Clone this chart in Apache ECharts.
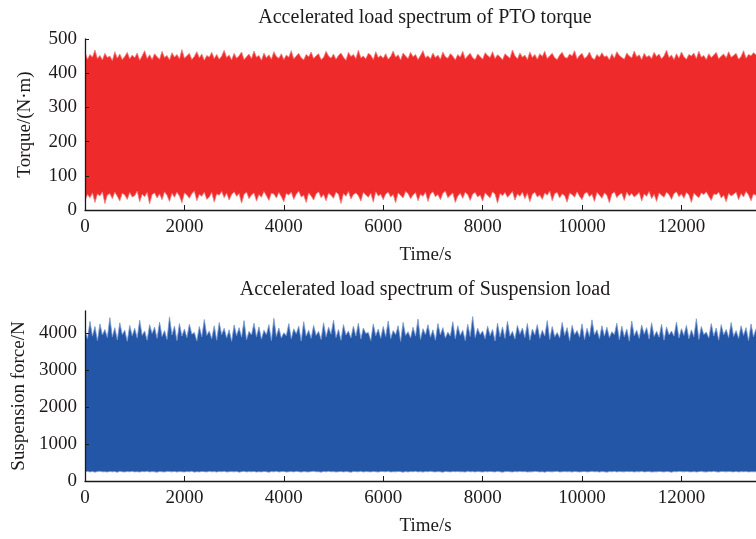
<!DOCTYPE html>
<html>
<head>
<meta charset="utf-8">
<script src="https://cdn.jsdelivr.net/npm/echarts@6/dist/echarts.min.js"></script>
<style>
  html, body { margin: 0; padding: 0; background: #fff; }
  #chart { width: 756px; height: 539px; }
</style>
</head>
<body>
<div id="chart"></div>
<script>
// sample times: 0 .. 13500 s, one envelope reading every 50 s
var timeStep = 50;

// PTO torque, upper envelope (N·m)
var torqueUpper = [
  462,441,455,447,468,443,452,439,458,446,
  450,437,463,444,456,440,449,461,442,453,
  445,459,438,451,466,443,454,440,457,448,
  441,464,446,452,439,460,447,455,442,469,
  444,451,458,440,449,463,445,456,438,452,
  447,461,443,455,441,450,467,446,453,439,
  458,444,451,462,440,448,456,443,465,447,
  452,438,459,445,454,441,463,449,444,457,
  440,453,447,466,442,450,458,445,439,455,
  448,462,443,451,457,440,446,464,450,444,
  456,441,452,459,447,438,461,449,455,443,
  467,445,450,442,458,453,440,463,446,452,
  444,457,441,449,465,447,454,439,459,450,
  443,461,448,455,440,452,466,445,451,442,
  459,446,453,441,462,448,444,457,450,439,
  455,447,464,442,451,458,445,440,456,449,
  441,460,452,446,463,443,454,448,439,457,
  450,444,468,451,442,459,447,453,440,462,
  446,455,441,457,449,464,443,451,458,445,
  440,453,461,447,444,456,450,466,442,452,
  458,443,449,462,445,440,455,447,460,448,
  451,439,457,444,463,452,446,441,459,450,
  445,465,448,454,440,458,447,452,443,461,
  449,456,442,451,467,446,453,440,457,444,
  462,448,441,455,450,459,443,464,447,452,
  440,457,446,453,461,442,450,456,445,463,
  447,452,458,441,449,466,444,455,451,460,
  454
];

// PTO torque, lower envelope (N·m)
var torqueLower = [
  28,45,36,50,22,47,41,53,19,44,
  48,33,52,40,26,49,44,31,51,38,
  42,55,24,46,39,51,18,45,50,35,
  47,30,53,43,25,49,37,52,41,21,
  50,44,34,48,55,27,46,40,52,31,
  38,51,23,47,43,54,36,49,29,45,
  53,40,48,20,46,52,33,44,50,26,
  45,37,54,42,28,49,47,35,51,39,
  24,48,44,52,31,46,55,38,43,22,
  50,41,29,47,53,36,45,27,49,43,
  34,52,46,19,48,40,54,32,45,50,
  42,26,51,44,37,49,23,53,41,46,
  30,47,52,38,45,21,50,43,35,54,
  48,33,44,51,27,46,40,52,25,47,
  53,39,45,30,49,55,36,43,50,22,
  41,49,34,52,45,28,47,51,38,44,
  26,50,43,35,53,46,20,48,42,51,
  37,45,54,29,47,40,52,33,49,24,
  46,52,38,44,31,50,43,55,27,48,
  51,35,47,42,23,49,45,37,53,40,
  30,48,52,39,46,25,51,44,34,50,
  43,21,47,53,36,45,49,28,52,41,
  48,38,44,51,26,47,40,54,33,46,
  25,50,43,37,52,45,31,48,53,39,
  47,34,51,44,22,49,42,36,50,45,
  53,40,28,47,45,52,35,43,24,49,
  41,46,52,30,48,38,54,44,27,47,
  43
];

// Suspension force, upper envelope (N)
var forceUpper = [
  4050,3850,4320,3920,4180,3800,4250,3950,4100,3880,
  4420,3900,4150,3820,4280,3960,4080,3780,4210,3930,
  4130,3870,4350,3940,4060,3810,4230,3990,4160,3860,
  4300,3910,4070,3830,4440,3950,4190,3800,4260,3920,
  4110,3880,4240,3970,4020,3790,4180,3900,4370,3940,
  4060,3850,4200,3810,4290,3960,4130,3870,4090,3780,
  4220,3930,4150,3890,4340,3820,4050,3950,4270,3900,
  4170,3840,4080,3960,4230,3800,4400,3910,4140,3870,
  4010,3930,4260,3850,4120,3980,4190,3790,4310,3920,
  4080,3860,4210,3940,4050,3830,4280,3900,4160,3970,
  4350,3880,4100,3810,4230,3950,4060,3870,4190,3920,
  4270,3840,4140,3990,4020,3800,4250,3930,4110,3860,
  4180,3910,4330,3850,4070,3960,4200,3780,4290,3940,
  4040,3870,4160,3920,4380,3830,4120,3960,4230,3890,
  4090,3810,4260,3950,4150,3870,4030,3920,4310,3850,
  4200,3940,4080,3800,4240,3910,4450,3880,4130,3960,
  4060,3850,4190,3930,4100,3790,4270,3900,4170,3860,
  4320,3920,4050,3840,4210,3970,4140,3880,4260,3810,
  4110,3950,4230,3860,4080,3920,4340,3830,4180,3900,
  4020,3870,4290,3940,4150,3800,4210,3960,4070,3890,
  4250,3830,4130,3910,4360,3950,4090,3850,4200,3920,
  4160,3880,4040,3960,4270,3820,4190,3900,4110,3790,
  4330,3930,4080,3860,4220,3970,4150,3840,4280,3910,
  4050,3890,4240,3810,4170,3950,4060,3920,4300,3870,
  4120,3940,4210,3850,4090,3900,4390,3830,4180,3960,
  4030,3870,4260,3920,4140,3810,4230,3950,4100,3880,
  4290,3910,4070,3860,4200,3940,4150,3800,4250,3900,
  4120
];

// Suspension force, lower envelope (N)
var forceLower = [
  250,262,245,258,240,255,266,248,252,243,
  260,247,255,238,263,250,244,257,249,261,
  246,253,241,259,251,264,245,256,248,239,
  258,250,243,262,254,247,260,242,255,251,
  244,257,249,265,240,253,246,259,252,245,
  261,248,255,242,257,250,263,244,251,256,
  247,259,240,253,262,246,255,249,258,243,
  252,245,260,251,238,256,248,263,244,254,
  259,242,250,257,246,261,253,241,255,248,
  245,256,264,249,252,240,258,247,262,250,
  254,243,251,259,245,257,249,236,260,253,
  248,262,244,255,251,246,258,250,242,257,
  256,249,261,243,253,247,259,252,240,255,
  244,258,250,262,246,254,241,257,249,263,
  251,245,256,248,239,260,253,246,258,250,
  259,247,252,241,264,249,255,244,257,251,
  243,256,248,260,252,245,261,250,238,254,
  257,250,243,258,247,262,251,255,244,249,
  248,261,255,246,253,240,259,252,247,256,
  262,244,250,257,249,254,242,260,251,245,
  253,258,246,251,263,248,255,241,256,250,
  240,255,249,262,245,257,250,247,259,252,
  258,243,254,248,261,246,253,256,242,250,
  247,260,252,244,257,251,239,255,249,262,
  255,248,259,250,246,256,243,253,261,247,
  244,257,251,263,249,242,258,254,248,256,
  252,246,260,243,255,250,257,245,253,249,
  251
];

var timeTicks = [0, 2000, 4000, 6000, 8000, 10000, 12000];
var torqueTicks = [0, 100, 200, 300, 400, 500];
var forceTicks = [0, 1000, 2000, 3000, 4000];

var titles = ['Accelerated load spectrum of PTO torque', 'Accelerated load spectrum of Suspension load'];

var fontFamily = '"Liberation Serif", "Times New Roman", serif';
var ink = '#1e1a1b';
var red = '#ee2a2a';
var redEdge = '#f37f7f';
var blue = '#2356a6';
var blueEdge = '#7c9bd0';

function pairs(vals) {
  return vals.map(function (v, i) { return [i * timeStep, v]; });
}
function plain(v) { return String(v); }

function timeAxis(gridIndex) {
  return {
    type: 'value', gridIndex: gridIndex, min: 0, max: 13500, z: 5,
    name: 'Time/s', nameLocation: 'middle', nameGap: 36,
    nameTextStyle: { fontFamily: fontFamily, fontSize: 19, color: ink, padding: [0, 0, 0, 10] },
    axisLine: { show: true, onZero: false, lineStyle: { color: ink, width: 1.3 } },
    axisTick: { show: true, inside: true, length: 5, customValues: timeTicks, lineStyle: { color: ink } },
    axisLabel: { fontFamily: fontFamily, fontSize: 19, color: ink, margin: 8, customValues: timeTicks, formatter: plain },
    splitLine: { show: false }
  };
}

function valueAxis(gridIndex, max, ticks, name, gap) {
  return {
    type: 'value', gridIndex: gridIndex, min: 0, max: max, z: 5,
    name: name, nameLocation: 'middle', nameGap: gap,
    nameTextStyle: { fontFamily: fontFamily, fontSize: 19, color: ink },
    axisLine: { show: true, onZero: false, lineStyle: { color: ink, width: 1.3 } },
    axisTick: { show: true, inside: true, length: 4, customValues: ticks, lineStyle: { color: ink } },
    axisLabel: { fontFamily: fontFamily, fontSize: 19, color: ink, margin: 8, customValues: ticks, formatter: plain },
    splitLine: { show: false }
  };
}

// filled envelope: upper area in colour, lower area painted white on top
function band(idx, up, lo, color, edge) {
  return [
    {
      type: 'line', xAxisIndex: idx, yAxisIndex: idx, data: pairs(up),
      symbol: 'none', silent: true, z: 2,
      lineStyle: { width: 0.8, color: edge },
      areaStyle: { color: color, opacity: 1 }
    },
    {
      type: 'line', xAxisIndex: idx, yAxisIndex: idx, data: pairs(lo),
      symbol: 'none', silent: true, z: 3,
      lineStyle: { width: 0.8, color: edge },
      areaStyle: { color: '#fff', opacity: 1 }
    }
  ];
}

var chart = echarts.init(document.getElementById('chart'));

var option = {
  animation: false,
  backgroundColor: '#fff',
  graphic: [
    { type: 'text', x: 425, y: 18, style: { text: titles[0], font: '20px ' + fontFamily, fill: ink, align: 'center', verticalAlign: 'middle' } },
    { type: 'text', x: 425, y: 290, style: { text: titles[1], font: '20px ' + fontFamily, fill: ink, align: 'center', verticalAlign: 'middle' } }
  ],
  grid: [
    { left: 85, right: 0, top: 39, height: 171 },
    { left: 85, right: 0, top: 311, height: 170 }
  ],
  xAxis: [timeAxis(0), timeAxis(1)],
  yAxis: [
    valueAxis(0, 500, torqueTicks, 'Torque/(N·m)', 50),
    valueAxis(1, 4600, forceTicks, 'Suspension force/N', 55)
  ],
  series: band(0, torqueUpper, torqueLower, red, redEdge).concat(band(1, forceUpper, forceLower, blue, blueEdge))
};

chart.setOption(option);
</script>
</body>
</html>
